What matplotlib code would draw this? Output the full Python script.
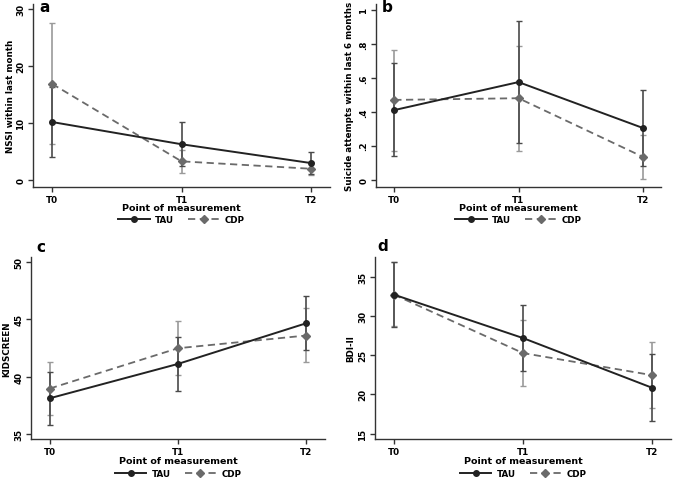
import matplotlib
matplotlib.use("Agg")
import matplotlib.pyplot as plt
import numpy as np

times = ["T0", "T1", "T2"]

# Panel a: NSSI within last month
a_tau = [10.2, 6.3, 3.0]
a_tau_lo = [4.0, 2.5, 1.1]
a_tau_hi = [16.4, 10.2, 4.9]
a_cdp = [16.9, 3.3, 2.0]
a_cdp_lo = [6.4, 1.3, 0.9]
a_cdp_hi = [27.5, 5.3, 3.1]

# Panel b: Suicide attempts within last 6 months
b_tau = [0.41, 0.575, 0.305]
b_tau_lo = [0.14, 0.215, 0.08]
b_tau_hi = [0.69, 0.935, 0.53]
b_cdp = [0.47, 0.48, 0.135]
b_cdp_lo = [0.17, 0.17, 0.005]
b_cdp_hi = [0.765, 0.79, 0.265]

# Panel c: KIDSCREEN
c_tau = [38.1, 41.1, 44.65]
c_tau_lo = [35.75, 38.77, 42.3]
c_tau_hi = [40.4, 43.47, 47.03]
c_cdp = [38.95, 42.47, 43.58]
c_cdp_lo = [36.63, 40.11, 41.25]
c_cdp_hi = [41.3, 44.87, 45.95]

# Panel d: BDI-II
d_tau = [32.75, 27.2, 20.85]
d_tau_lo = [28.65, 22.97, 16.66]
d_tau_hi = [36.92, 31.38, 25.1]
d_cdp = [32.75, 25.28, 22.46]
d_cdp_lo = [28.7, 21.1, 18.24]
d_cdp_hi = [36.9, 29.5, 26.64]

panels = [
    ("a", "NSSI within last month", a_tau, a_tau_lo, a_tau_hi, a_cdp, a_cdp_lo, a_cdp_hi,
     (-1.2, 30.9), [0, 10, 20, 30], ["0", "10", "20", "30"]),
    ("b", "Suicide attempts within last 6 months", b_tau, b_tau_lo, b_tau_hi, b_cdp, b_cdp_lo, b_cdp_hi,
     (-0.043, 1.035), [0, 0.2, 0.4, 0.6, 0.8, 1.0], ["0", ".2", ".4", ".6", ".8", "1"]),
    ("c", "KIDSCREEN", c_tau, c_tau_lo, c_tau_hi, c_cdp, c_cdp_lo, c_cdp_hi,
     (34.54, 50.44), [35, 40, 45, 50], ["35", "40", "45", "50"]),
    ("d", "BDI-II", d_tau, d_tau_lo, d_tau_hi, d_cdp, d_cdp_lo, d_cdp_hi,
     (14.3, 37.56), [15, 20, 25, 30, 35], ["15", "20", "25", "30", "35"]),
]

W, H = 673, 481
rects = [
    (33, 5, 330, 188),
    (376, 5, 661, 188),
    (31, 258, 325, 440),
    (375, 258, 671, 440),
]
letter_pos = [(39, 8), (382, 8), (36, 248), (377, 247)]
ylabel_x = [11, 349, 7, 351]
xlabel_y = [209, 209, 462, 462]
legend_y = [221, 221, 475, 475]

fig = plt.figure(figsize=(W / 100, H / 100), dpi=100)
fig.patch.set_facecolor("white")

TAU_C = "#222222"
CDP_C = "#6a6a6a"
TAU_E = "#4a4a4a"
CDP_E = "#9a9a9a"
FS = 6.3

x = np.arange(len(times))
for i, (letter, ylabel, tau, tlo, thi, cdp, clo, chi, ylim, yt, ytl) in enumerate(panels):
    l, t, r, b = rects[i]
    ax = fig.add_axes([l / W, 1 - b / H, (r - l) / W, (b - t) / H])
    tau = np.array(tau); cdp = np.array(cdp)
    ax.errorbar(x, cdp, yerr=[cdp - np.array(clo), np.array(chi) - cdp], fmt="none",
                ecolor=CDP_E, elinewidth=1.2, capsize=2.5, capthick=1.0, zorder=2)
    ax.errorbar(x, tau, yerr=[tau - np.array(tlo), np.array(thi) - tau], fmt="none",
                ecolor=TAU_E, elinewidth=1.2, capsize=2.5, capthick=1.0, zorder=2)
    ax.plot(x, tau, color=TAU_C, lw=1.4, ls="-", marker="o", ms=4, zorder=4, label="TAU")
    ax.plot(x, cdp, color=CDP_C, lw=1.3, ls=(0, (4, 2.5)), marker="D", ms=3.8,
            mfc=CDP_C, mec=CDP_C, zorder=3, label="CDP")
    ax.set_xlim(-0.147, 2.147)
    ax.set_ylim(*ylim)
    ax.set_xticks(x)
    ax.set_xticklabels(times, fontsize=FS, fontweight="bold")
    ax.set_yticks(yt)
    ax.set_yticklabels(ytl, fontsize=FS, fontweight="bold", rotation=90, va="center")
    for s in ["top", "right"]:
        ax.spines[s].set_visible(False)
    for s in ["left", "bottom"]:
        ax.spines[s].set_color("#333333")
        ax.spines[s].set_linewidth(1.0)
    ax.tick_params(axis="both", direction="out", length=3.5, width=1.0, color="#333333", pad=2)
    fig.text(ylabel_x[i] / W, 1 - ((t + b) / 2) / H, ylabel, rotation=90, fontsize=FS,
             fontweight="bold", ha="center", va="center")
    cx = (l + r) / 2
    fig.text(cx / W, 1 - xlabel_y[i] / H, "Point of measurement", fontsize=FS + 0.5,
             fontweight="bold", ha="center", va="center")
    h, lab = ax.get_legend_handles_labels()
    fig.legend(h, lab, loc="center", bbox_to_anchor=(cx / W, 1 - legend_y[i] / H),
               bbox_transform=fig.transFigure, ncol=2, frameon=False,
               handlelength=3.6, columnspacing=1.6, handletextpad=0.6, borderpad=0.1,
               prop={"weight": "bold", "size": FS})
    lx, ly = letter_pos[i]
    fig.text(lx / W, 1 - ly / H, letter, fontsize=11, fontweight="bold", va="center", ha="left")

fig.savefig("out.png", dpi=100, facecolor="white")
